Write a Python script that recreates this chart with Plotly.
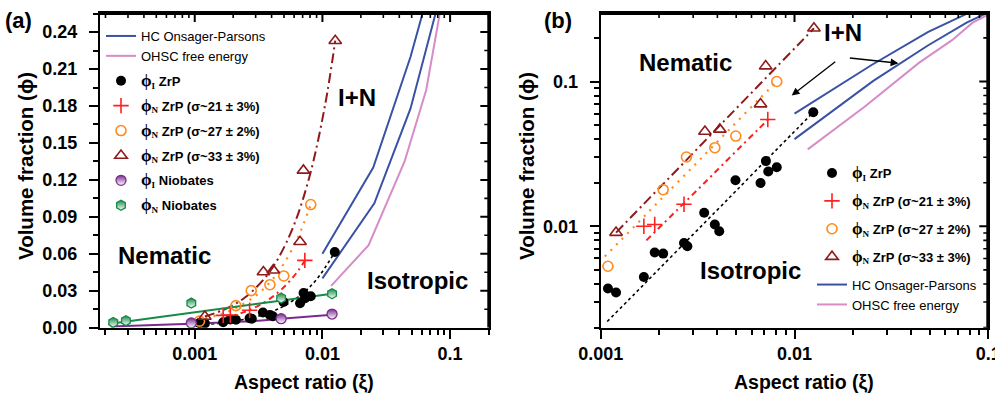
import math
import plotly.graph_objects as go

W, H = 995, 397

# ---------------- data ----------------
# phi_I ZrP
zrpI_x = [0.00109, 0.00120, 0.00167, 0.00190, 0.00210, 0.00269, 0.00280, 0.00342,
          0.00388, 0.00409, 0.00496, 0.00668, 0.00712, 0.00732, 0.00810, 0.0125]
zrpI_y = [0.00372, 0.00349, 0.00447, 0.00659, 0.00648, 0.00768, 0.00728, 0.0124,
          0.0103, 0.00925, 0.0208, 0.0199, 0.0282, 0.0239, 0.0256, 0.0614]
# phi_N ZrP sigma~21
s21_x = [0.00167, 0.00190, 0.00269, 0.00728]
s21_y = [0.0100, 0.0103, 0.0142, 0.0547]
# phi_N ZrP sigma~27
s27_x = [0.00109, 0.00210, 0.00277, 0.00388, 0.00498, 0.00810]
s27_y = [0.0053, 0.0179, 0.0301, 0.0349, 0.0420, 0.100]
# phi_N ZrP sigma~33
s33_x = [0.00120, 0.00345, 0.00412, 0.00668, 0.00710, 0.0126]
s33_y = [0.00905, 0.0452, 0.0467, 0.0698, 0.1277, 0.233]
# Niobates
nbI_x = [0.00094, 0.00475, 0.0119]
nbI_y = [0.0038, 0.0073, 0.0111]
nbN_x = [0.00023, 0.000289, 0.00094, 0.00475, 0.0119]
nbN_y = [0.0043, 0.0057, 0.0200, 0.0241, 0.0276]

# fitted guide lines
fitI_x = [0.00108, 0.0015, 0.002, 0.003, 0.004, 0.005, 0.007, 0.009, 0.0125]
fitI_y = [0.0022, 0.00343, 0.00507, 0.0088, 0.0130, 0.0176, 0.0279, 0.0392, 0.0613]
fit21_x = [0.00172, 0.0025, 0.0035, 0.0045, 0.0055, 0.0065, 0.0075]
fit21_y = [0.0080, 0.0131, 0.0205, 0.0287, 0.0375, 0.0467, 0.0566]
fit27_x = [0.00105, 0.0015, 0.002, 0.003, 0.004, 0.005, 0.0065, 0.0081]
fit27_y = [0.00618, 0.01005, 0.0149, 0.0259, 0.0384, 0.0521, 0.0745, 0.100]
fit33_x = [0.0012, 0.0018, 0.0025, 0.0035, 0.0045, 0.006, 0.008, 0.0105, 0.0126]
fit33_y = [0.00905, 0.01585, 0.0249, 0.0397, 0.0562, 0.0836, 0.1244, 0.181, 0.233]
fitNbI_x = [0.00022, 0.00094, 0.0027, 0.00475, 0.0119]
fitNbI_y = [0.0010, 0.0033, 0.0052, 0.0072, 0.0105]
fitNbN_x = [0.00021, 0.0119]
fitNbN_y = [0.0030, 0.0276]

# theory curves
hcUp_x = [0.0100, 0.025, 0.049, 0.0615, 0.0807]
hcUp_y = [0.060, 0.130, 0.220, 0.255, 0.301]
hcLo_x = [0.0100, 0.0255, 0.049, 0.0773, 0.100]
hcLo_y = [0.040, 0.101, 0.178, 0.255, 0.300]
ohsc_x = [0.0117, 0.023, 0.044, 0.065, 0.083, 0.100]
ohsc_y = [0.034, 0.067, 0.135, 0.193, 0.255, 0.290]

# ticks
x_major = [0.001, 0.01, 0.1]
x_major_txt = ["0.001", "0.01", "0.1"]
ya_major = [0.00, 0.03, 0.06, 0.09, 0.12, 0.15, 0.18, 0.21, 0.24]
ya_major_txt = ["0.00", "0.03", "0.06", "0.09", "0.12", "0.15", "0.18", "0.21", "0.24"]
ya_minor = [0.015, 0.045, 0.075, 0.105, 0.135, 0.165, 0.195, 0.225, 0.255]
yb_major = [0.01, 0.1]
yb_major_txt = ["0.01", "0.1"]
log_minor = [k * 10.0 ** e for e in (-4, -3, -2, -1) for k in range(2, 10)]

# ---------------- styling ----------------
BLUE = '#3A52A4'
PINK = '#D68CC6'
RED = '#FF2020'
ORANGE = '#FF8A1E'
BROWN = '#8E1B1B'
PURPLE = '#7A2C8E'
GREEN = '#178A47'
FONT = 'Liberation Sans, Arial, sans-serif'
SERIF = 'Liberation Serif'

def phi(sub):
    return (f"<span style='font-family:{SERIF};font-size:17px'>ϕ</span>"
            f"<sub><span style='font-family:{SERIF}'>{sub}</span></sub>")

NAME_I = f"<b>{phi('I')} ZrP</b>"
NAME_21 = f"<b>{phi('N')} ZrP (σ~21 ± 3%)</b>"
NAME_27 = f"<b>{phi('N')} ZrP (σ~27 ± 2%)</b>"
NAME_33 = f"<b>{phi('N')} ZrP (σ~33 ± 3%)</b>"
NAME_NBI = f"<b>{phi('I')} Niobates</b>"
NAME_NBN = f"<b>{phi('N')} Niobates</b>"

fig = go.Figure()

def sc(x, y, xa, ya, **kw):
    fig.add_trace(go.Scatter(x=x, y=y, xaxis=xa, yaxis=ya, **kw))

def theory(xa, ya, leg, show):
    sc(hcUp_x, hcUp_y, xa, ya, mode='lines', line=dict(color=BLUE, width=2),
       name='HC Onsager-Parsons', legend=leg, legendgroup=leg + 'th', showlegend=show)
    sc(hcLo_x, hcLo_y, xa, ya, mode='lines', line=dict(color=BLUE, width=2),
       name='HC Onsager-Parsons', legend=leg, legendgroup=leg + 'th', showlegend=False)
    sc(ohsc_x, ohsc_y, xa, ya, mode='lines', line=dict(color=PINK, width=2),
       name='OHSC free energy', legend=leg, legendgroup=leg + 'th', showlegend=show)

def fits(xa, ya, nb):
    sc(fitI_x, fitI_y, xa, ya, mode='lines', line=dict(color='black', width=1.6, dash='dot', shape='spline'),
       showlegend=False)
    sc(fit21_x, fit21_y, xa, ya, mode='lines', line=dict(color=RED, width=2, dash='6px,4px,2px,4px', shape='spline'),
       showlegend=False)
    sc(fit27_x, fit27_y, xa, ya, mode='lines', line=dict(color=ORANGE, width=2.2, dash='2px,6px', shape='spline'),
       showlegend=False)
    sc(fit33_x, fit33_y, xa, ya, mode='lines', line=dict(color=BROWN, width=2, dash='10px,4px,2px,4px', shape='spline'),
       showlegend=False)
    if nb:
        sc(fitNbI_x, fitNbI_y, xa, ya, mode='lines', line=dict(color=PURPLE, width=2, shape='spline'),
           showlegend=False)
        sc(fitNbN_x, fitNbN_y, xa, ya, mode='lines', line=dict(color=GREEN, width=2), showlegend=False)

def markers(xa, ya, leg, nb):
    sc(zrpI_x, zrpI_y, xa, ya, mode='markers', name=NAME_I, legend=leg, legendgroup=leg + 'a',
       marker=dict(symbol='circle', size=10, color='black'))
    sc(s21_x, s21_y, xa, ya, mode='markers', name=NAME_21, legend=leg, legendgroup=leg + 'b',
       marker=dict(symbol='cross-thin', size=11, color=RED, line=dict(color=RED, width=1.6)))
    sc(s27_x, s27_y, xa, ya, mode='markers', name=NAME_27, legend=leg, legendgroup=leg + 'c',
       marker=dict(symbol='circle-open', size=10, color=ORANGE, line=dict(color=ORANGE, width=1.6)))
    sc(s33_x, s33_y, xa, ya, mode='markers', name=NAME_33, legend=leg, legendgroup=leg + 'd',
       marker=dict(symbol='triangle-up-open', size=11, color=BROWN, line=dict(color=BROWN, width=1.6)))
    if nb:
        sc(nbI_x, nbI_y, xa, ya, mode='markers', name=NAME_NBI, legend=leg, legendgroup=leg + 'e',
           marker=dict(symbol='circle', size=10, color=PURPLE, line=dict(color=PURPLE, width=1.3),
                       gradient=dict(type='vertical', color='white')))
        sc(nbN_x, nbN_y, xa, ya, mode='markers', name=NAME_NBN, legend=leg, legendgroup=leg + 'f',
           marker=dict(symbol='hexagon', size=10, color=GREEN, line=dict(color=GREEN, width=1.3),
                       gradient=dict(type='vertical', color='white')))

# panel (a)
theory('x', 'y', 'legend', True)
fits('x', 'y', True)
markers('x', 'y', 'legend', True)
# panel (b)
fits('x2', 'y2', False)
markers('x2', 'y2', 'legend2', False)
theory('x2', 'y2', 'legend2', True)

# ---------------- axes ----------------
TICKF = dict(family=FONT, size=18, color='black')
ax_common = dict(showline=True, mirror=True, linewidth=2, linecolor='black', showgrid=False,
                 zeroline=False, tickwidth=2, tickcolor='black', tickfont=TICKF,
                 tickmode='array', ticks='outside', ticklen=9, ticklabeloverflow='allow')

XA = [100 / W, 489.3 / W]
XB = [600.7 / W, 988.3 / W]
YD = [1 - 327.7 / H, 1 - 13.0 / H]

xa_range = [-3.742, -0.693]
ya_range = [0, 0.2555]
xb_range = [-3, -1]
yb_range = [-2.700, -0.527]

minor_out = dict(ticks='outside', ticklen=5, tickwidth=1.6, tickcolor='black')

def bold(lst):
    return [f"<b>{t}</b>" for t in lst]

fig.update_layout(
    xaxis=dict(**ax_common, domain=XA, anchor='y', type='log', range=xa_range,
               tickvals=x_major, ticktext=bold(x_major_txt), ticklabelstandoff=0,
               minor=dict(tickmode='array', tickvals=log_minor, **minor_out)),
    yaxis=dict(**ax_common, domain=YD, anchor='x', range=ya_range,
               tickvals=ya_major, ticktext=bold(ya_major_txt), ticklabelstandoff=8,
               minor=dict(tickmode='array', tickvals=ya_minor, **minor_out)),
    xaxis2=dict(**ax_common, domain=XB, anchor='y2', type='log', range=xb_range,
                tickvals=x_major, ticktext=bold(x_major_txt), ticklabelstandoff=0,
                minor=dict(tickmode='array', tickvals=log_minor, **minor_out)),
    yaxis2=dict(**ax_common, domain=YD, anchor='x2', type='log', range=yb_range,
                tickvals=yb_major, ticktext=bold(yb_major_txt), ticklabelstandoff=8,
                minor=dict(tickmode='array', tickvals=log_minor, **minor_out)),
)
fig.update_xaxes(automargin=False)
fig.update_yaxes(automargin=False)

# frame (top / right edges) with inward ticks, computed from the axis ranges and tick arrays
PLOT_H = 327.7 - 13.0

def frame(xa, ya, xr, yr, ylog, pw, xmaj, xmin, ymaj, ymin):
    X0, X1 = 10 ** xr[0], 10 ** xr[1]
    toy = (lambda v: 10 ** v) if ylog else (lambda v: v)
    fromy = (lambda v: math.log10(v)) if ylog else (lambda v: v)
    Y0, Y1 = toy(yr[0]), toy(yr[1])
    # edges (drawn wide: half of the stroke is clipped away at the plot border)
    sc([X0, X1, None, X1, X1], [Y1, Y1, None, Y0, Y1], xa, ya, mode='lines',
       line=dict(color='black', width=4), showlegend=False, hoverinfo='skip')
    for (xv, yv, ln, lw) in ((xmaj, ymaj, 9, 2), (xmin, ymin, 5, 1.6)):
        xs, ys = [], []
        ybot = toy(yr[1] - ln / PLOT_H * (yr[1] - yr[0]))
        for v in xv:
            if xr[0] < math.log10(v) < xr[1]:
                xs += [v, v, None]
                ys += [Y1, ybot, None]
        xleft = 10 ** (xr[1] - ln / pw * (xr[1] - xr[0]))
        for v in yv:
            if yr[0] < fromy(v) < yr[1]:
                xs += [X1, xleft, None]
                ys += [v, v, None]
        sc(xs, ys, xa, ya, mode='lines', line=dict(color='black', width=lw),
           showlegend=False, hoverinfo='skip')

frame('x', 'y', xa_range, ya_range, False, 489.3 - 100, x_major, log_minor, ya_major, ya_minor)
frame('x2', 'y2', xb_range, yb_range, True, 988.3 - 600.7, x_major, log_minor, yb_major, log_minor)

LEGF = dict(family=FONT, size=13, color='black')
fig.update_layout(
    legend=dict(x=101 / W, y=1 - 21 / H, xanchor='left', yanchor='top', bgcolor='rgba(0,0,0,0)',
                traceorder='grouped', tracegroupgap=5, font=LEGF, itemsizing='trace', borderwidth=0),
    legend2=dict(x=812 / W, y=1 - 158 / H, xanchor='left', yanchor='top', bgcolor='rgba(0,0,0,0)',
                 traceorder='grouped', tracegroupgap=8, font=LEGF, itemsizing='trace', borderwidth=0),
)

# ---------------- text ----------------
def txt(t, x, y, size, angle=0):
    fig.add_annotation(text=f"<b>{t}</b>", x=x / W, y=1 - y / H, xref='paper', yref='paper',
                       showarrow=False, textangle=angle, xanchor='center', yanchor='middle',
                       font=dict(family=FONT, size=size, color='black'))

txt("(a)", 18, 20, 22)
txt("(b)", 558, 20, 22)
txt("Nematic", 164, 255, 24)
txt("Isotropic", 417, 280, 24)
txt("I+N", 357, 97, 24)
txt("Nematic", 685, 63, 24)
txt("I+N", 843, 33, 24)
txt("Isotropic", 750, 270, 24)
txt("Aspect ratio (ξ)", 304, 382, 19.5)
txt("Aspect ratio (ξ)", 804, 382, 19.5)
txt("Volume fraction (ϕ)", 25, 166, 20.5, -90)
txt("Volume fraction (ϕ)", 526, 166, 20.5, -90)

# arrows (panel b), in log axis units
fig.add_annotation(x=-2.0145, y=-1.0966, ax=-1.782, ay=-0.855, xref='x2', yref='y2',
                   axref='x2', ayref='y2', showarrow=True, arrowhead=2, arrowsize=1.2,
                   arrowwidth=1.3, arrowcolor='black', text='')
fig.add_annotation(x=-1.4636, y=-0.8738, ax=-1.722, ay=-0.8366, xref='x2', yref='y2',
                   axref='x2', ayref='y2', showarrow=True, arrowhead=2, arrowsize=1.2,
                   arrowwidth=1.3, arrowcolor='black', text='')

fig.update_layout(width=W, height=H, margin=dict(l=0, r=0, t=0, b=0, autoexpand=False),
                  paper_bgcolor='white', plot_bgcolor='white',
                  font=dict(family=FONT, color='black'))

fig.write_html("out.html")
